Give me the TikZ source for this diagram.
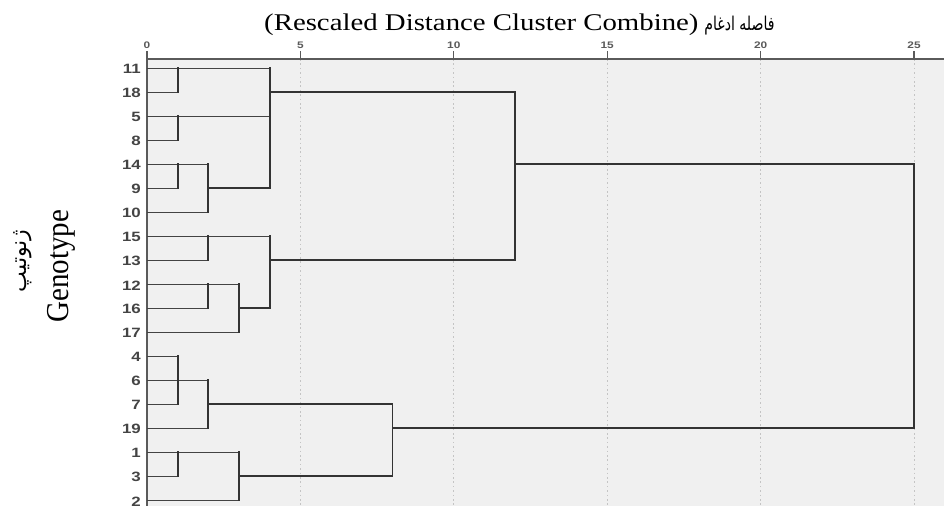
\documentclass[tikz,border=0pt]{standalone}
\usepackage{fontspec}
\setmainfont{Liberation Serif}
\newfontfamily\labelfont{Liberation Sans}
\newfontfamily\arabicfont[Script=Arabic]{DejaVu Sans}
\TeXXeTstate=1
\usetikzlibrary{calc}
\definecolor{plotbg}{HTML}{F0F0F0}
\definecolor{gridc}{HTML}{C4C4C4}
\definecolor{linec}{HTML}{333333}
\definecolor{axisc}{HTML}{5A5A5A}
\definecolor{labc}{HTML}{444444}

\begin{document}
\begin{tikzpicture}[x=1pt,y=-1pt,
  branch/.style={draw=linec, line width=1.8pt, line cap=rect},
  leafline/.style={draw=linec!92, line width=1.5pt},
  gridline/.style={draw=gridc, line width=1pt, dash pattern=on 1.6pt off 2.8pt},
  axisline/.style={draw=axisc, line width=1.4pt},
  tickmark/.style={draw=axisc, line width=1.2pt},
  ticklabel/.style={font=\labelfont\bfseries\fontsize{9.5}{10}\selectfont, text=axisc, inner sep=0pt, anchor=base},
  leaflabel/.style={font=\labelfont\bfseries\fontsize{13.5}{14}\selectfont, text=labc, inner sep=0pt, anchor=east},
]
\useasboundingbox (0,0) rectangle (944,506);

% plot area
\fill[plotbg] (147,59) rectangle (944,506);

% distance levels along the top axis
\foreach \n in {0,...,25} \coordinate (k\n) at ({147+\n*30.68},59);

% dotted grid, ticks and tick labels
\foreach \n in {5,10,15,20,25} \draw[gridline] (k\n) -- (k\n |- 0,506);
\foreach \n in {0,5,10,15,20,25} {
  \draw[tickmark] (k\n) -- ++(0,-8);
  \node[ticklabel] (t\n) at ($(k\n)+(0,-11)$) {\scalebox{1.25}[1]{\n}};
}
\draw[axisline] (k0) -- (944,59);
\draw[axisline] (k0) -- (147,506);

% leaves
\foreach \lab [count=\i from 0] in {11,18,5,8,14,9,10,15,13,12,16,17,4,6,7,19,1,3,2} {
  \coordinate (L\lab) at (147,{68.3+24*\i});
  \node[leaflabel] (n\lab) at (141,{69.3+24*\i}) {\scalebox{1.25}[1]{\lab}};
}

% leaf lines: row / level reached
\foreach \r/\k in {11/4,18/1,5/4,8/1,14/2,9/1,10/2,15/4,13/2,12/3,16/2,17/3,4/1,6/2,7/1,19/2,1/3,3/1,2/3}
  \draw[leafline] (L\r) -- (L\r -| k\k);

% joining horizontals: row / from level / to level
\foreach \r/\a/\b in {18/4/12,9/2/4,13/4/12,16/3/4,14/12/25,7/2/8,19/8/25,3/3/8}
  \draw[branch] (L\r -| k\a) -- (L\r -| k\b);

% verticals: level / first row / last row
\foreach \k/\a/\b in {1/11/18,1/5/8,1/14/9,1/4/7,1/1/3,2/14/10,2/15/13,2/12/16,2/6/19,3/12/17,3/1/2,4/11/9,4/15/16,8/7/3,12/18/13,25/14/19}
  \draw[branch] (L\a -| k\k) -- (L\b -| k\k);

% titles
\node[anchor=base west, inner sep=0pt] (title) at (264,30)
  {\scalebox{1.2}[1]{\fontsize{24}{26}\selectfont (Rescaled Distance Cluster Combine)}\hspace{6pt}%
   \scalebox{0.74}[1]{\arabicfont\fontsize{19}{21}\selectfont\beginR فاصله ادغام\endR}};
\node[rotate=90, anchor=base, inner sep=0pt] (ylab) at (68,266)
  {\scalebox{1}[1.1]{\fontsize{29}{30}\selectfont Genotype}};
\node[rotate=90, anchor=center, inner sep=0pt] (ylabfa) at (23,261)
  {\arabicfont\fontsize{22}{24}\selectfont\beginR ژنوتیپ\endR};
\end{tikzpicture}
\end{document}
